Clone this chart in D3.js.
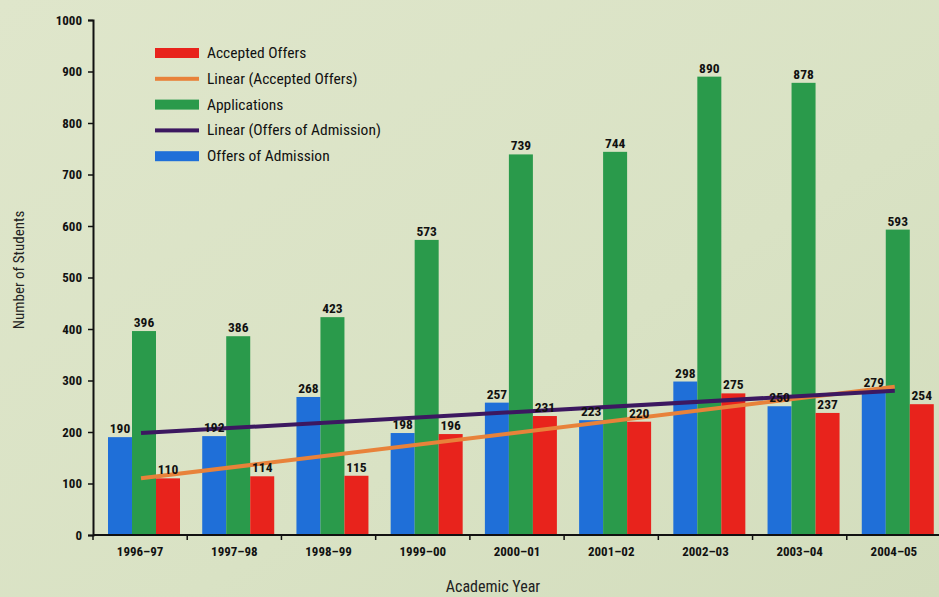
<!DOCTYPE html>
<html>
<head>
<meta charset="utf-8">
<script src="https://cdn.jsdelivr.net/npm/d3@7"></script>
<style>
  body { margin: 0; background: #dce4c7; }
  svg text { font-family: "Liberation Sans Narrow", "Roboto Condensed", "DejaVu Sans Condensed", "Liberation Sans", sans-serif; }
</style>
</head>
<body>
<svg id="chart" width="939" height="597"></svg>
<script>
const years = ["1996\u201397","1997\u201398","1998\u201399","1999\u201300","2000\u201301","2001\u201302","2002\u201303","2003\u201304","2004\u201305"];
const offers = [190,192,268,198,257,223,298,250,279];
const applications = [396,386,423,573,739,744,890,878,593];
const accepted = [110,114,115,196,231,220,275,237,254];
// trend line end values (first year, last year)
const offersTrend = [198, 280];
const acceptedTrend = [110, 288];
const yTicks = [0,100,200,300,400,500,600,700,800,900,1000];

const svg = d3.select("#chart");

// background wash
const defs = svg.append("defs");
const grad = defs.append("linearGradient").attr("id","bg").attr("x1","0").attr("y1","0").attr("x2","1").attr("y2","1");
grad.append("stop").attr("offset","0%").attr("stop-color","#dfe6cb");
grad.append("stop").attr("offset","60%").attr("stop-color","#d9e2c4");
grad.append("stop").attr("offset","100%").attr("stop-color","#d3ddbd");
svg.append("rect").attr("width",939).attr("height",597).attr("fill","url(#bg)");

const x = d3.scaleBand().domain(years).range([93, 941]);
const y = d3.scaleLinear().domain([0,1000]).range([535, 20]);
const barW = 24;
const groupOff = 15;

const series = [
  {name:"Offers of Admission", vals: offers, color:"#1f6fd8", i:0},
  {name:"Applications", vals: applications, color:"#2a9a4b", i:1},
  {name:"Accepted Offers", vals: accepted, color:"#e8231c", i:2}
];

const g = svg.append("g");

series.forEach(s => {
  g.selectAll(null)
    .data(s.vals)
    .enter().append("rect")
    .attr("x", (d,i) => x(years[i]) + groupOff + s.i*barW)
    .attr("y", d => y(d))
    .attr("width", barW)
    .attr("height", d => y(0) - y(d))
    .attr("fill", s.color);
});

// trend lines, from first group centre to last group centre
const cx = yr => x(yr) + groupOff + 1.5*barW - 3;
const trends = [
  {vals: acceptedTrend, color:"#e8823a"},
  {vals: offersTrend, color:"#3c1860"}
];
trends.forEach(t => {
  g.append("line")
    .attr("x1", cx(years[0]))
    .attr("y1", y(t.vals[0]))
    .attr("x2", cx(years[years.length-1]))
    .attr("y2", y(t.vals[1]))
    .attr("stroke", t.color)
    .attr("stroke-width", 4);
});

// value labels
series.forEach(s => {
  g.selectAll(null)
    .data(s.vals)
    .enter().append("text")
    .attr("x", (d,i) => x(years[i]) + groupOff + s.i*barW + barW/2)
    .attr("y", d => y(d) - 4)
    .attr("text-anchor","middle")
    .attr("font-size", 13.5)
    .attr("font-weight","bold")
    .attr("fill","#111")
    .text(d => d);
});

// axes
const yAxis = svg.append("g")
  .attr("transform","translate(93,0)")
  .call(d3.axisLeft(y).tickValues(yTicks).tickFormat(d3.format("d")).tickSize(5).tickPadding(6));
const xAxis = svg.append("g")
  .attr("transform","translate(0,535)")
  .call(d3.axisBottom(x).tickSize(0).tickPadding(12));
xAxis.selectAll(".tick").append("line")
  .attr("x1", -x.bandwidth()/2).attr("x2", -x.bandwidth()/2)
  .attr("y1", 0).attr("y2", 5)
  .attr("stroke","#111").attr("stroke-width",1.5);
[yAxis, xAxis].forEach(a => {
  a.select(".domain").attr("stroke","#111").attr("stroke-width",2);
  a.selectAll(".tick line").attr("stroke","#111").attr("stroke-width",1.5);
  a.selectAll("text").attr("font-size",13).attr("font-weight","bold").attr("fill","#111");
});
xAxis.select(".domain").attr("d","M93,0H939");

svg.append("text")
  .attr("transform","translate(24,270) rotate(-90)")
  .attr("text-anchor","middle")
  .attr("font-size",15)
  .attr("fill","#222")
  .text("Number of Students");
svg.append("text")
  .attr("x",493).attr("y",592)
  .attr("text-anchor","middle")
  .attr("font-size",16)
  .attr("fill","#222")
  .text("Academic Year");

// legend
const legendItems = [
  {name:"Accepted Offers", color:"#e8231c", type:"bar"},
  {name:"Linear (Accepted Offers)", color:"#e8823a", type:"line"},
  {name:"Applications", color:"#2a9a4b", type:"bar"},
  {name:"Linear (Offers of Admission)", color:"#3c1860", type:"line"},
  {name:"Offers of Admission", color:"#1f6fd8", type:"bar"}
];
const leg = svg.append("g").attr("transform","translate(155,53)");
const row = leg.selectAll("g").data(legendItems).enter().append("g")
  .attr("transform",(d,i) => `translate(0,${i*25.8})`);
row.append("rect")
  .attr("x",0).attr("width",44)
  .attr("y", d => d.type === "bar" ? -5 : -2)
  .attr("height", d => d.type === "bar" ? 10 : 4)
  .attr("fill", d => d.color);
row.append("text")
  .attr("x",52).attr("y",5)
  .attr("font-size",15.5)
  .attr("fill","#111")
  .text(d => d.name);
</script>
</body>
</html>
